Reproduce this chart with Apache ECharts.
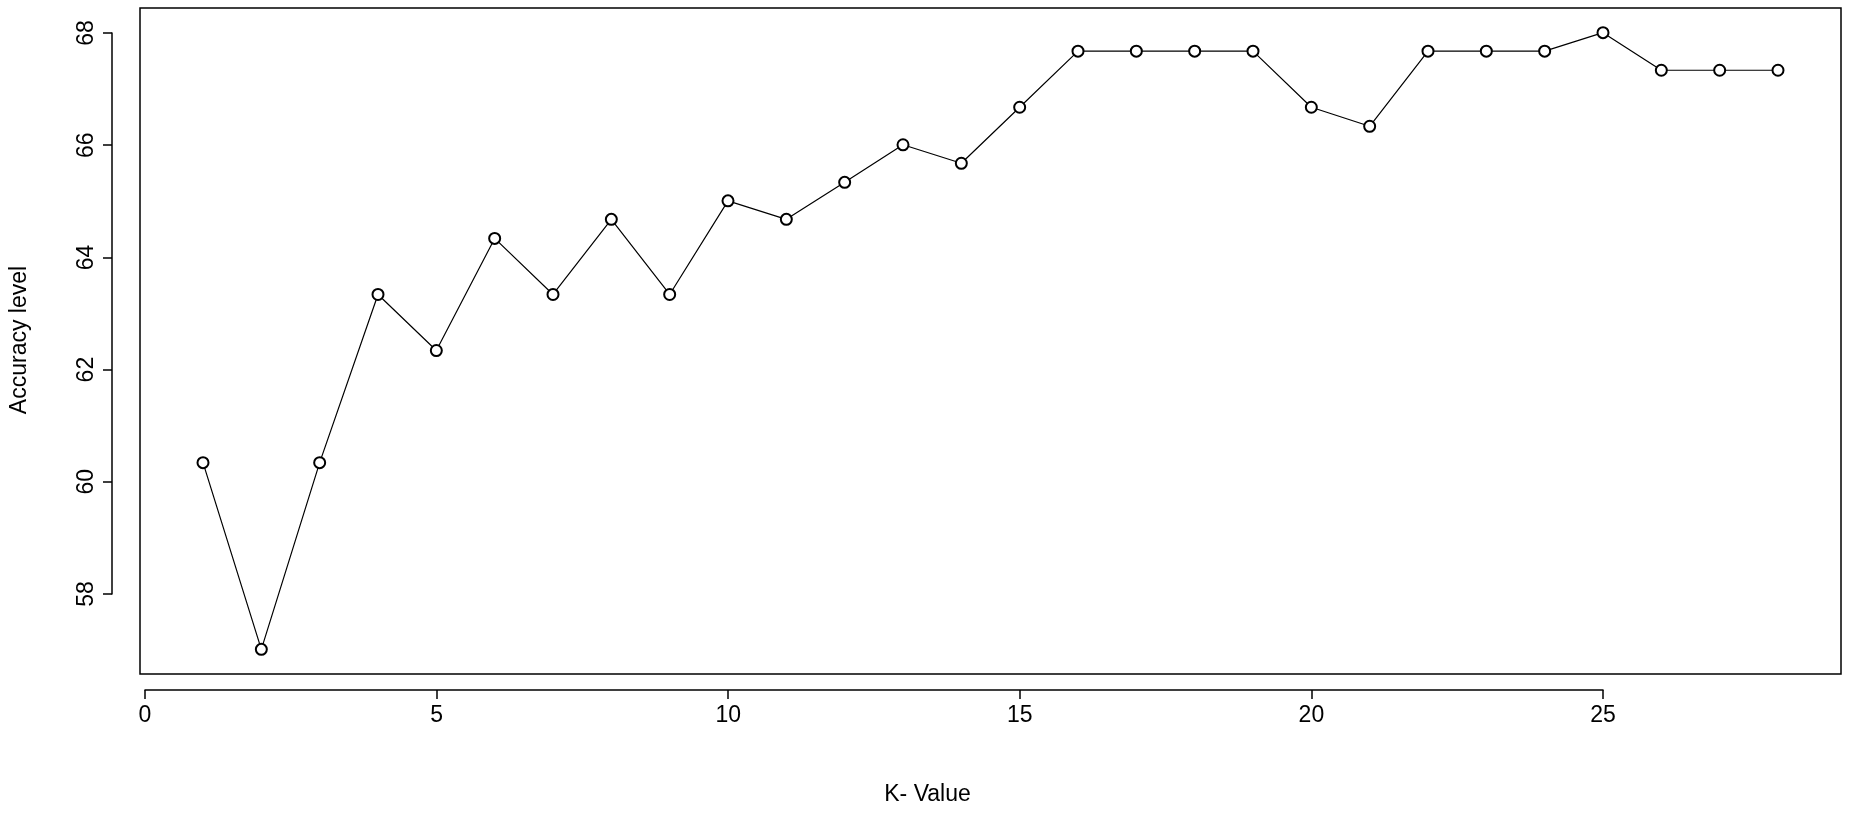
<!DOCTYPE html><html><head><meta charset="utf-8"><script src="https://cdn.jsdelivr.net/npm/echarts@6/dist/echarts.min.js"></script>
<style>html,body{margin:0;background:#fff}#c{width:1855px;height:820px}</style></head><body><div id="c"></div><script>
const kValues=[1,2,3,4,5,6,7,8,9,10,11,12,13,14,15,16,17,18,19,20,21,22,23,24,25,26,27,28];
const accuracy=[60.33,57,60.33,63.33,62.33,64.33,63.33,64.67,63.33,65,64.67,65.33,66,65.67,66.67,67.67,67.67,67.67,67.67,66.67,66.33,67.67,67.67,67.67,68,67.33,67.33,67.33];
const xTicks=[0,5,10,15,20,25];
const yTicks=[58,60,62,64,66,68];
const font='Liberation Sans';
const ch=echarts.init(document.getElementById('c'));
const ax={axisLine:{show:true,lineStyle:{color:'#000',width:1.5}},axisTick:{show:true,length:9,lineStyle:{color:'#000',width:1.5}},splitLine:{show:false},axisLabel:{color:'#000',fontSize:23,fontFamily:font}};
ch.setOption({animation:false,
grid:[{left:140,right:14,top:8,bottom:146,show:true,borderColor:'#000',borderWidth:1.5},
{left:145,width:1458,top:10,height:680},
{left:112,width:100,top:33,height:561}],
xAxis:[{gridIndex:0,type:'value',min:-0.08,max:29.08,show:false},
{gridIndex:1,type:'value',min:0,max:25,interval:5,position:'bottom',...ax,axisLabel:{...ax.axisLabel,margin:14}},
{gridIndex:2,type:'value',show:false}],
yAxis:[{gridIndex:0,type:'value',min:56.56,max:68.44,show:false},
{gridIndex:1,type:'value',show:false},
{gridIndex:2,type:'value',min:58,max:68,interval:2,position:'left',...ax,axisLabel:{...ax.axisLabel,rotate:90,margin:14}}],
graphic:[{type:'text',left:'center',top:783,style:{text:'K- Value',fontSize:23,fontFamily:font,fill:'#000'}},
{type:'text',x:8,y:340,rotation:Math.PI/2,style:{text:'Accuracy level',fontSize:23,fontFamily:font,fill:'#000',align:'center'}}],
series:[{type:'line',xAxisIndex:0,yAxisIndex:0,data:kValues.map((k,i)=>[k,accuracy[i]]),symbol:'emptyCircle',symbolSize:11,lineStyle:{color:'#000',width:1.2},itemStyle:{color:'#000',borderWidth:1.3}}]});
</script></body></html>
